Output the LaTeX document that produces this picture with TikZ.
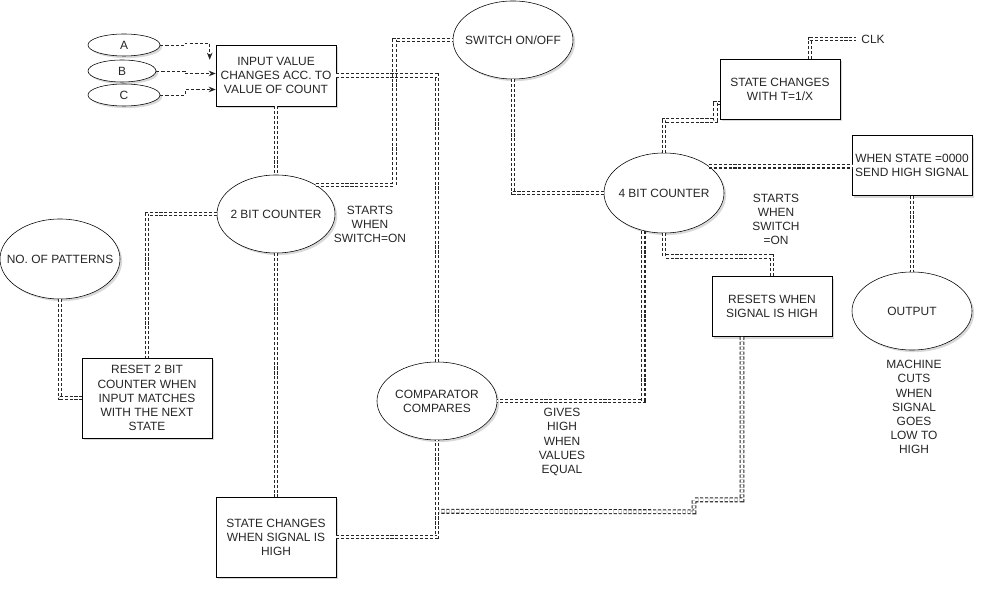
\documentclass[tikz,border=0pt]{standalone}
\usepackage{fontspec}
\setmainfont{Liberation Sans}
\usetikzlibrary{positioning,arrows.meta,calc,shapes.geometric,shadows}

\begin{document}
\begin{tikzpicture}[x=0.025cm, y=-0.025cm, >=Stealth,
    every node/.style={font=\fontsize{8.5}{10}\selectfont, align=center, text=black!85},
    box/.style={draw, fill=white, inner sep=0pt, minimum width=3cm, minimum height=2cm,
      drop shadow={shadow xshift=1.5pt, shadow yshift=-1.5pt, opacity=0.3}},
    oval/.style={ellipse, draw, fill=white, inner xsep=-10pt, inner ysep=0pt,
      minimum width=3cm, minimum height=1.95cm,
      drop shadow={shadow xshift=1.5pt, shadow yshift=-1.5pt, opacity=0.3}},
    link/.style={draw=black!85, line width=0.75pt, double=white, double distance=2pt,
      dash pattern=on 2.2pt off 1.3pt},
    arr/.style={draw=black!85, line width=0.7pt, dash pattern=on 2.2pt off 1.5pt,
      -{Stealth[length=5pt,width=4pt]}}]
  \useasboundingbox (0,0) rectangle (984,589);

  % inputs
  \node[oval, minimum width=1.8cm, minimum height=0.55cm] (a) at (124,45) {A};
  \node[oval, minimum width=1.7cm, minimum height=0.55cm] (b) at (122,71) {B};
  \node[oval, minimum width=1.8cm, minimum height=0.55cm] (c) at (124,95) {C};
  \node[box, minimum height=1.525cm] (inbox) at (276,75.5) {INPUT VALUE\\CHANGES ACC. TO\\VALUE OF COUNT};

  % left part
  \node[oval] (sw) at (513,40) {SWITCH ON/OFF};
  \node[oval, minimum width=2.95cm] (cnt2) at (276,214) {2 BIT COUNTER};
  \node[oval, minimum height=2cm] (pat) at (60,259) {NO. OF PATTERNS};
  \node[box, minimum width=3.25cm] (reset) at (147,398) {RESET 2 BIT\\COUNTER WHEN\\INPUT MATCHES\\WITH THE NEXT\\STATE};
  \node[box] (sbox) at (276,537) {STATE CHANGES\\WHEN SIGNAL IS\\HIGH};
  \node[oval] (cmp) at (437,401) {COMPARATOR\\COMPARES};

  % right part
  \node[oval, minimum height=2cm] (cnt4) at (664,193) {4 BIT COUNTER};
  \node[box, minimum height=1.5cm] (tbox) at (780,89) {STATE CHANGES\\WITH T=1/X};
  \node (clk) at (873,39) {CLK};
  \node[box, minimum height=1.5cm] (zero) at (912,165.5) {WHEN STATE =0000\\SEND HIGH SIGNAL};
  \node[oval] (out) at (912,311) {OUTPUT};
  \node[box, minimum height=1.5cm] (rst) at (772,306.5) {RESETS WHEN\\SIGNAL IS HIGH};

  % notes
  \node (note1) at (370,224) {STARTS\\WHEN\\SWITCH=ON};
  \node (note2) at (776,219) {STARTS\\WHEN\\SWITCH\\=ON};
  \node (note3) at (562,442) {GIVES\\HIGH\\WHEN\\VALUES\\EQUAL};
  \node (note4) at (914,407) {MACHINE\\CUTS\\WHEN\\SIGNAL\\GOES\\LOW TO\\HIGH};

  \draw[arr] (a.east) -- ++(25,0) -- ++(0,-2) -| ($(inbox.north west)+(-6,15)$);
  \draw[arr] (b.east) -- ++(29,0) |- ($(inbox.west)+(0,-2)$);
  \draw[arr] (c.east) -- ++(25,0) |- ($(inbox.west)+(0,14)$);

  \draw[link] (inbox) -- (cnt2);
  \draw[link] (inbox.east) -| (cmp.north);
  \draw[link] (cnt2.36) -| ($(sw.west)+(-58,0)$) -- (sw.west);
  \draw[link] (cnt2.west) -| (reset.north);
  \draw[link] (pat.south) |- (reset.west);
  \draw[link] (cnt2) -- (sbox);
  \draw[link] (sbox.east) -| (cmp.south);
  \draw[link] (sw.south) |- (cnt4.west);
  \draw[link] (cnt4.north) |- ($(tbox.south west)+(-4,1)$) |- ($(tbox.west)+(0,14)$);
  \draw[link] ($(tbox.north)+(30,0)$) |- (clk.west);
  \draw[link] (cnt4.31) -- (cnt4.31 -| zero.west);
  \draw[link] (zero) -- (out);
  \draw[link] (cnt4.241) |- (cmp.east);
  \draw[link] (cnt4.south) -- ++(0,23) -| (rst.north);
  \draw[link] ($(rst.south)+(-30,0)$) -- ++(0,163) -| ++(-48,12) -- ($(cmp.south)+(2.5,71)$);
\end{tikzpicture}
\end{document}
